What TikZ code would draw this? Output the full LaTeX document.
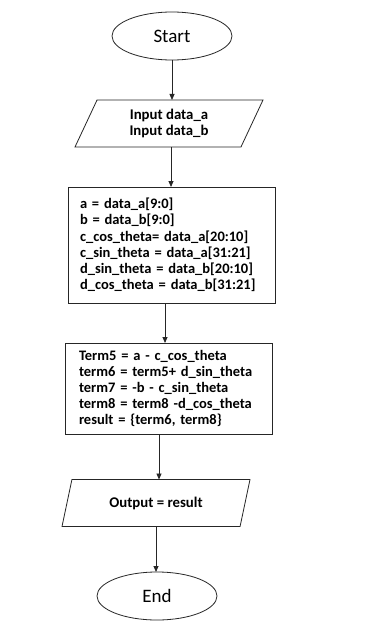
\documentclass[tikz,border=0pt]{standalone}
\usepackage{fontspec}
\setmainfont{Carlito}
\usetikzlibrary{shapes.geometric,arrows.meta}
\begin{document}
\begin{tikzpicture}[x=1pt,y=-1pt,
  every node/.style={inner sep=0pt,outer sep=0pt},
  line/.style={draw=black!85,line width=0.8pt},
  term/.style={line,ellipse,minimum width=120pt,minimum height=48pt,font=\fontsize{19}{21}\selectfont},
  io/.style={line,trapezium,trapezium left angle=52,trapezium right angle=128,trapezium stretches body,minimum width=188pt,minimum height=47pt,align=center,font=\bfseries\fontsize{14.8}{15.5}\selectfont},
  proc/.style={line,rectangle,align=left,font=\bfseries\fontsize{14.5}{16.2}\selectfont},
  arr/.style={line,-{Triangle[length=6pt,width=5pt]}}]
\useasboundingbox[fill=white] (0,0) rectangle (370,626);
\node[term] (start) at (172,36) {Start};
\node[io] (in) at (169,123.5) {Input data\_a\\Input data\_b};
\node[proc,minimum width=207pt,minimum height=116pt,text width=183pt] (b1) at (171.5,245) {a = data\_a[9:0]\\b = data\_b[9:0]\\c\_cos\_theta= data\_a[20:10]\\c\_sin\_theta = data\_a[31:21]\\d\_sin\_theta = data\_b[20:10]\\d\_cos\_theta = data\_b[31:21]};
\node[proc,minimum width=207pt,minimum height=91pt,text width=179pt] (b2) at (168.5,388.5) {Term5 = a - c\_cos\_theta\\term6 = term5+ d\_sin\_theta\\term7 = -b - c\_sin\_theta\\term8 = term8 -d\_cos\_theta\\result = \{term6, term8\}};
\node[io] (out) at (156,503) {Output = result};
\node[term] (end) at (157,596) {End};
\draw[arr] (start.south -| 172,0) -- (in.north -| 172,0);
\draw[arr] (in.south -| 171,0) -- (b1.north -| 171,0);
\draw[arr] (b1.south -| 165,0) -- (b2.north -| 165,0);
\draw[arr] (b2.south -| 159,0) -- (out.north -| 159,0);
\draw[arr] (out.south -| 156,0) -- (end.north -| 156,0);
\end{tikzpicture}
\end{document}
